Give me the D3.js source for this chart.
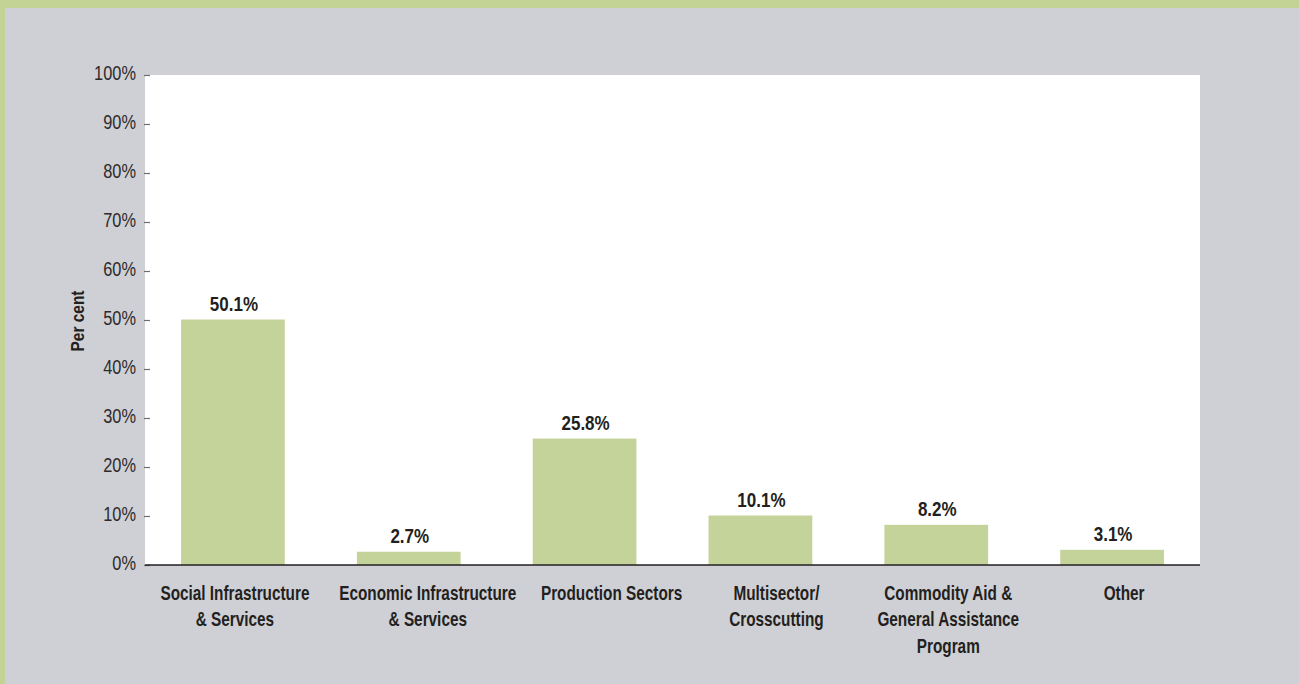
<!DOCTYPE html>
<html><head><meta charset="utf-8">
<script src="https://cdn.jsdelivr.net/npm/d3@7"></script>
<style>
html,body{margin:0;padding:0;background:#cfd0d5;}
svg{display:block;}
</style></head><body>
<svg id="c" width="1299" height="684"></svg>
<script>
const categories = [
  ["Social Infrastructure", "& Services"],
  ["Economic Infrastructure", "& Services"],
  ["Production Sectors"],
  ["Multisector/", "Crosscutting"],
  ["Commodity Aid &", "General Assistance", "Program"],
  ["Other"]
];
const values = [50.1, 2.7, 25.8, 10.1, 8.2, 3.1];
const yTicks = [0, 10, 20, 30, 40, 50, 60, 70, 80, 90, 100];

const W = 1299, H = 684;
const FONT = "'Liberation Sans',Arial,sans-serif";
const svg = d3.select("#c");
const m = {left: 145, right: 1200, top: 75, bottom: 565};
// horizontal nudges of the category labels, as set in the original layout
const labelNudge = [2, 19, 27, 16, 12, 12];

svg.append("rect").attr("width", W).attr("height", H).attr("fill", "#cfd0d5");
svg.append("rect").attr("x", 0).attr("y", 0).attr("width", W).attr("height", 8).attr("fill", "#c3d396");
svg.append("rect").attr("x", 0).attr("y", 0).attr("width", 5).attr("height", H).attr("fill", "#c3d396");

const x = d3.scaleBand().domain(d3.range(values.length)).range([m.left, m.right]).paddingInner(0.41).paddingOuter(0.205);
const y = d3.scaleLinear().domain([0, 100]).range([m.bottom, m.top]);

svg.append("rect").attr("x", m.left).attr("y", m.top).attr("width", m.right - m.left).attr("height", m.bottom - m.top).attr("fill", "#ffffff");

// y axis
const ya = svg.append("g").attr("transform", `translate(${m.left},0)`)
  .call(d3.axisLeft(y).tickValues(yTicks).tickFormat(d => d + "%").tickSize(0).tickPadding(9));
ya.select(".domain").remove();
ya.selectAll("text").attr("font-family", FONT).attr("font-size", 21).attr("fill", "#2e2a2b")
  .attr("x", 0).attr("dy", "0.30em").attr("transform", "translate(-9,-2) scale(0.78,1)");
ya.selectAll(".tick").append("line").attr("x1", -1).attr("x2", 5).attr("stroke", "#6d6e71").attr("stroke-width", 1.2);

// bars
svg.selectAll("rect.bar").data(values).join("rect").attr("class", "bar")
  .attr("x", (d, i) => x(i)).attr("width", x.bandwidth())
  .attr("y", d => y(d)).attr("height", d => y(0) - y(d))
  .attr("fill", "#c4d39a");

// baseline
svg.append("line").attr("x1", m.left).attr("x2", m.right).attr("y1", y(0)).attr("y2", y(0))
  .attr("stroke", "#231f20").attr("stroke-width", 1.3);

// value labels
svg.selectAll("text.val").data(values).join("text").attr("class", "val")
  .attr("transform", (d, i) => `translate(${x(i) + x.bandwidth() / 2 + 1},${y(d) - 9}) scale(0.85,1)`)
  .attr("text-anchor", "middle").attr("font-family", FONT).attr("font-weight", "bold")
  .attr("font-size", 20).attr("fill", "#231f20").text(d => d.toFixed(1) + "%");

// category labels
const cl = svg.selectAll("text.cat").data(categories).join("text").attr("class", "cat")
  .attr("transform", (d, i) => `translate(${x(i) + x.bandwidth() / 2 + labelNudge[i]},600) scale(0.73,1)`)
  .attr("text-anchor", "middle").attr("font-family", FONT).attr("font-weight", "bold")
  .attr("font-size", 21).attr("fill", "#231f20");
cl.selectAll("tspan").data(d => d).join("tspan")
  .attr("x", 0)
  .attr("dy", (d, i) => i === 0 ? 0 : 26.5).text(d => d);

// axis title
svg.append("text").attr("transform", `translate(84,${(y(0)+y(100))/2 + 1}) rotate(-90) scale(0.86,1)`)
  .attr("text-anchor", "middle").attr("font-family", FONT).attr("font-weight", "bold")
  .attr("font-size", 18).attr("fill", "#231f20").text("Per cent");
</script>
</body></html>
